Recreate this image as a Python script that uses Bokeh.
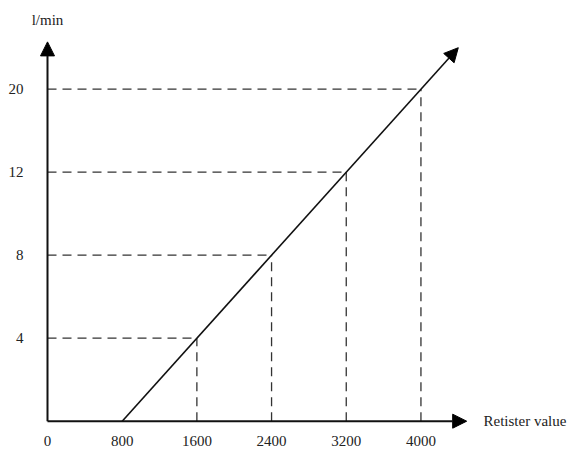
from bokeh.plotting import figure
from bokeh.models import Range1d, Arrow, NormalHead
from bokeh.core.properties import value
from bokeh.embed import file_html
from bokeh.resources import INLINE

# data
resistance = [1600, 2400, 3200, 4000]        # x values of marked points
flow = [4, 8, 12, 20]                         # l/min labels (equally spaced)
x_ticks = [0, 800, 1600, 2400, 3200, 4000]
x_start = 800                                 # line starts here at zero flow
line_end_x = 4400
line_end_level = 4.5
x_axis_end = 4490
y_axis_end = 4.57

levels = list(range(1, len(flow) + 1))

W, H = 570, 452
origin_px, origin_py = 47, 420.7
px_per_unit = 0.09336
px_per_level = 83.0

p = figure(width=W, height=H, output_backend="svg", toolbar_location=None,
           x_range=Range1d(-origin_px / px_per_unit, (W - origin_px) / px_per_unit),
           y_range=Range1d(-(H - origin_py) / px_per_level, origin_py / px_per_level),
           min_border=0)
p.outline_line_color = None
p.grid.visible = False
p.xaxis.visible = False
p.yaxis.visible = False
p.background_fill_color = "white"
p.border_fill_color = "white"

FONT = value("Liberation Serif")
TXT = dict(text_font=FONT, text_font_size="15px", text_color="#222222")

# dashed guides
dash = dict(line_color="#333333", line_width=1.3, line_dash="9 6")
p.segment(x0=[0] * len(levels), y0=levels, x1=resistance, y1=levels, **dash)
p.segment(x0=resistance, y0=[0] * len(levels), x1=resistance, y1=levels, **dash)

# axes with arrows
def head():
    return NormalHead(size=14, fill_color="black", line_color="black", line_width=1)

p.add_layout(Arrow(end=head(), x_start=0, y_start=0, x_end=x_axis_end, y_end=0,
                   line_color="#111111", line_width=2))
p.add_layout(Arrow(end=head(), x_start=0, y_start=0, x_end=0, y_end=y_axis_end,
                   line_color="#111111", line_width=2))
# characteristic line
p.add_layout(Arrow(end=head(), x_start=x_start, y_start=0, x_end=line_end_x, y_end=line_end_level,
                   line_color="#111111", line_width=1.6))

# tick labels (through the data scales)
x_lab_y = -20 / px_per_level
p.text(x=x_ticks, y=[x_lab_y] * len(x_ticks), text=[str(t) for t in x_ticks],
       text_align="center", text_baseline="middle", **TXT)
y_lab_x = -24 / px_per_unit
p.text(x=[y_lab_x] * len(levels), y=levels, text=[str(f) for f in flow],
       text_align="right", text_baseline="middle", **TXT)

# axis titles
p.text(x=[0], y=[4.83], text=["l/min"], text_align="center", text_baseline="middle", **TXT)
p.text(x=[4670], y=[0], text=["Retister value"], text_align="left", text_baseline="middle", **TXT)

open("out.html", "w").write(file_html(p, INLINE))
